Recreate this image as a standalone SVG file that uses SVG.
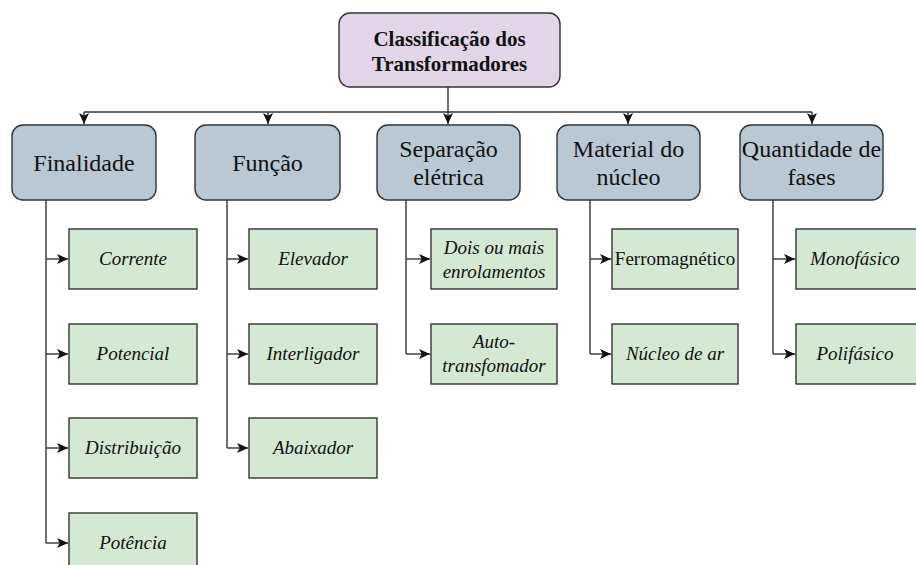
<svg xmlns="http://www.w3.org/2000/svg" width="916" height="565" viewBox="0 0 916 565" font-family="Liberation Serif, Times New Roman, serif">
<defs>
<style>
.root{fill:#e1d5e7;stroke:#333;stroke-width:1.4}
.cat{fill:#bac8d3;stroke:#333;stroke-width:1.4}
.leaf{fill:#d5e8d4;stroke:#333;stroke-width:1.4}
.edge{fill:none;stroke:#333;stroke-width:1.4}
text{fill:#111;text-anchor:middle}
.tr{font-size:21px;font-weight:bold}
.tc{font-size:24px}
.tl{font-size:19px;font-style:italic}
.tn{font-size:19px}
</style>
<marker id="ah" viewBox="0 0 12 12" refX="12" refY="6" markerWidth="11" markerHeight="11" markerUnits="userSpaceOnUse" orient="auto">
<path d="M0,0.5 L12,6 L0,11.5 L3,6 Z" fill="#111"/>
</marker>
</defs>
<rect width="916" height="565" fill="#fff"/>
<g id="connectors">
<path class="edge" d="M448,87 V124" marker-end="url(#ah)"/>
<path class="edge" d="M84,112 H812"/>
<path class="edge" d="M84,112 V124" marker-end="url(#ah)"/>
<path class="edge" d="M268,112 V124" marker-end="url(#ah)"/>
<path class="edge" d="M628,112 V124" marker-end="url(#ah)"/>
<path class="edge" d="M812,112 V124" marker-end="url(#ah)"/>
<path class="edge" d="M46,200 V543"/>
<path class="edge" d="M46,259 H68" marker-end="url(#ah)"/>
<path class="edge" d="M46,354 H68" marker-end="url(#ah)"/>
<path class="edge" d="M46,448 H68" marker-end="url(#ah)"/>
<path class="edge" d="M46,543 H68" marker-end="url(#ah)"/>
<path class="edge" d="M227,200 V448"/>
<path class="edge" d="M227,259 H248" marker-end="url(#ah)"/>
<path class="edge" d="M227,354 H248" marker-end="url(#ah)"/>
<path class="edge" d="M227,448 H248" marker-end="url(#ah)"/>
<path class="edge" d="M406,200 V354"/>
<path class="edge" d="M406,259 H430" marker-end="url(#ah)"/>
<path class="edge" d="M406,354 H430" marker-end="url(#ah)"/>
<path class="edge" d="M590,200 V354"/>
<path class="edge" d="M590,259 H611" marker-end="url(#ah)"/>
<path class="edge" d="M590,354 H611" marker-end="url(#ah)"/>
<path class="edge" d="M773,200 V354"/>
<path class="edge" d="M773,259 H795" marker-end="url(#ah)"/>
<path class="edge" d="M773,354 H795" marker-end="url(#ah)"/>
</g>
<g id="root">
<rect class="root" x="339" y="13" width="221" height="74" rx="11"/>
<text class="tr" x="449.5" y="46">Classificação dos</text>
<text class="tr" x="449.5" y="71">Transformadores</text>
</g>
<g id="finalidade">
<rect class="cat" x="12" y="125" width="144" height="75" rx="11"/>
<text class="tc" x="84" y="171">Finalidade</text>
</g>
<g id="funcao">
<rect class="cat" x="195" y="125" width="145" height="75" rx="11"/>
<text class="tc" x="267.5" y="171">Função</text>
</g>
<g id="separacao">
<rect class="cat" x="377" y="125" width="143" height="75" rx="11"/>
<text class="tc" x="448.5" y="157">Separação</text>
<text class="tc" x="448.5" y="185">elétrica</text>
</g>
<g id="material">
<rect class="cat" x="557" y="125" width="143" height="75" rx="11"/>
<text class="tc" x="628.5" y="157">Material do</text>
<text class="tc" x="628.5" y="185">núcleo</text>
</g>
<g id="quantidade">
<rect class="cat" x="740" y="125" width="143" height="75" rx="11"/>
<text class="tc" x="811.5" y="157">Quantidade de</text>
<text class="tc" x="811.5" y="185">fases</text>
</g>
<g id="corrente">
<rect class="leaf" x="69" y="229" width="128" height="60"/>
<text class="tl" x="133" y="265">Corrente</text>
</g>
<g id="potencial">
<rect class="leaf" x="69" y="324" width="128" height="60"/>
<text class="tl" x="133" y="360">Potencial</text>
</g>
<g id="distribuicao">
<rect class="leaf" x="69" y="418" width="128" height="60"/>
<text class="tl" x="133" y="454">Distribuição</text>
</g>
<g id="potencia">
<rect class="leaf" x="69" y="513" width="128" height="60"/>
<text class="tl" x="133" y="549">Potência</text>
</g>
<g id="elevador">
<rect class="leaf" x="249" y="229" width="128" height="60"/>
<text class="tl" x="313" y="265">Elevador</text>
</g>
<g id="interligador">
<rect class="leaf" x="249" y="324" width="128" height="60"/>
<text class="tl" x="313" y="360">Interligador</text>
</g>
<g id="abaixador">
<rect class="leaf" x="249" y="418" width="128" height="60"/>
<text class="tl" x="313" y="454">Abaixador</text>
</g>
<g id="dois">
<rect class="leaf" x="431" y="229" width="126" height="60"/>
<text class="tl" x="494" y="254">Dois ou mais</text>
<text class="tl" x="494" y="278">enrolamentos</text>
</g>
<g id="auto">
<rect class="leaf" x="431" y="324" width="126" height="60"/>
<text class="tl" x="494" y="348">Auto-</text>
<text class="tl" x="494" y="372">transfomador</text>
</g>
<g id="ferro">
<rect class="leaf" x="612" y="229" width="126" height="60"/>
<text class="tn" x="675" y="265">Ferromagnético</text>
</g>
<g id="nucleo">
<rect class="leaf" x="612" y="324" width="126" height="60"/>
<text class="tl" x="675" y="360">Núcleo de ar</text>
</g>
<g id="mono">
<rect class="leaf" x="796" y="229" width="126" height="60"/>
<text class="tl" x="855" y="265">Monofásico</text>
</g>
<g id="poli">
<rect class="leaf" x="796" y="324" width="126" height="60"/>
<text class="tl" x="855" y="360">Polifásico</text>
</g>
</svg>
